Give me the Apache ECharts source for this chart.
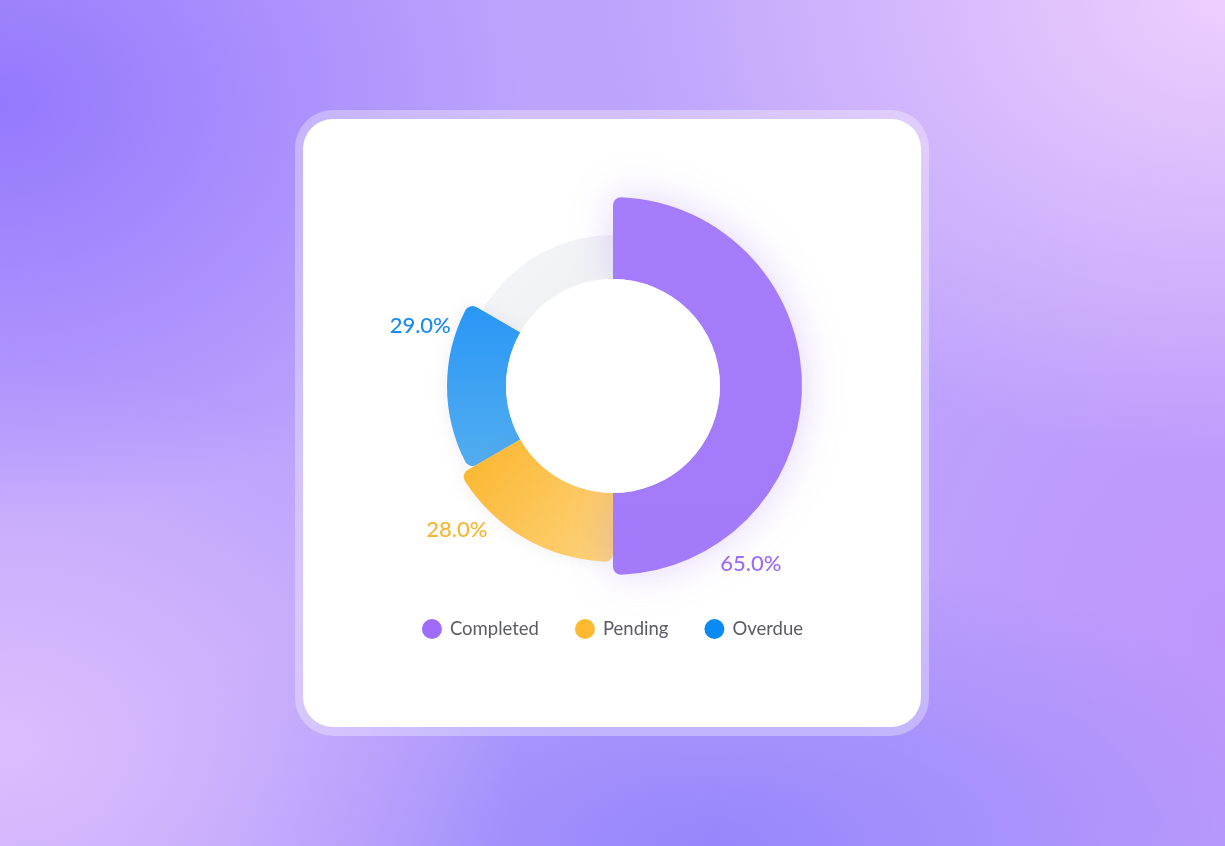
<!DOCTYPE html>
<html>
<head>
<meta charset="utf-8">
<script src="https://cdn.jsdelivr.net/npm/echarts@6/dist/echarts.min.js"></script>
<style>
html,body{margin:0;padding:0;width:1225px;height:846px;overflow:hidden;}
body{
  background:
    radial-gradient(ellipse 520px 420px at 0% 12%, rgba(146,118,253,0.95), rgba(146,118,253,0) 100%),
    radial-gradient(ellipse 620px 460px at 100% 0%, rgba(238,206,253,1), rgba(238,206,253,0) 100%),
    radial-gradient(ellipse 520px 380px at 0% 88%, rgba(220,190,253,1), rgba(220,190,253,0) 100%),
    radial-gradient(ellipse 620px 300px at 58% 100%, rgba(150,134,251,1), rgba(150,134,251,0) 100%),
    radial-gradient(ellipse 420px 500px at 100% 75%, rgba(190,150,251,1), rgba(190,150,251,0) 100%),
    #BCA3FC;
}
#frame{position:absolute;left:295px;top:110px;width:634px;height:626px;border-radius:38px;background:rgba(255,255,255,0.32);}
#card{position:absolute;left:303px;top:119px;width:618px;height:608px;border-radius:30px;background:#fff;}
#chart{position:absolute;left:0;top:0;width:1225px;height:846px;}
</style>
</head>
<body>
<div id="frame"></div>
<div id="card"></div>
<div id="chart"></div>
<script>
// ---- data ----
const categories = ['Completed', 'Pending', 'Overdue'];
const percentValues = [65.0, 28.0, 29.0];       // labels shown on the chart
const arcDegrees = [180, 60, 60];               // angular span of each arc
const legendColors = ['#9E6BFA', '#FDBA30', '#0A8AF2'];
const labelColors = ['#9D6CF6', '#F6B632', '#1A8AEE'];

// ---- layout / style ----
const CX = 613, CY = 386, INNER = 107;
const outerRadii = [189, 176, 166];
const TRACK_OUTER = 151;
const gradients = [
  {type:'linear', x:0, y:0, x2:0, y2:1, colorStops:[{offset:0,color:'#A57DFC'},{offset:1,color:'#A37BFA'}]},
  {type:'linear', x:0, y:0, x2:1, y2:1, colorStops:[{offset:0,color:'#FBB52B'},{offset:1,color:'#FDD37E'}]},
  {type:'linear', x:0, y:0, x2:0, y2:1, colorStops:[{offset:0,color:'#2A97F6'},{offset:1,color:'#52ADEF'}]}
];

const chart = echarts.init(document.getElementById('chart'), null, {renderer:'canvas'});

const series = [];
// background track
series.push({
  type:'pie', name:'track', silent:true, z:1,
  center:[CX, CY], radius:[INNER, TRACK_OUTER],
  label:{show:false}, labelLine:{show:false},
  itemStyle:{color:{type:'linear', x:0, y:0, x2:1, y2:1, colorStops:[{offset:0,color:'#F6F6F8'},{offset:1,color:'#E2E7EC'}]}},
  data:[{value:1, name:'_track'}]
});

let start = 0;
const starts = [];
for (let i = 0; i < categories.length; i++) { starts.push(start); start += arcDegrees[i]; }

// draw order: Overdue, Pending, Completed (later on top)
for (let k = categories.length - 1; k >= 0; k--) {
  const i = k;
  const s0 = starts[i];
  series.push({
    type:'pie', name:categories[i], z:2 + (categories.length - i),
    center:[CX, CY], radius:[INNER, outerRadii[i]],
    startAngle: 90 - s0, clockwise:true,
    avoidLabelOverlap:false,
    emphasis:{disabled:true},
    itemStyle:{borderRadius:[0, 8], shadowBlur: i === 0 ? 40 : 18, shadowColor: i === 0 ? 'rgba(150,100,250,0.28)' : 'rgba(120,120,160,0.12)'},
    labelLine:{show:false},
    labelLayout: function (p) {
      const a = (s0 + 0.79 * arcDegrees[i]) * Math.PI / 180;
      const r = outerRadii[i] + 36;
      return {x: CX + r * Math.sin(a), y: CY - r * Math.cos(a), align:'center', verticalAlign:'middle'};
    },
    data:[
      {value:arcDegrees[i], name:categories[i], itemStyle:{color:gradients[i]},
       label:{show:true, position:'outside', formatter: percentValues[i].toFixed(1) + '%',
              color:labelColors[i], fontSize:22, fontFamily:'Lato', fontWeight:500}},
      {value:360 - arcDegrees[i], name:'', itemStyle:{color:'rgba(0,0,0,0)', shadowBlur:0, borderRadius:0},
       label:{show:false}, tooltip:{show:false}, silent:true}
    ]
  });
}

// white hole on top, hides shadows falling inside the ring
series.push({
  type:'pie', name:'hole', silent:true, z:10,
  center:[CX, CY], radius:[0, INNER],
  label:{show:false}, labelLine:{show:false},
  itemStyle:{color:'#FFFFFF'},
  data:[{value:1, name:'_hole'}]
});

chart.setOption({
  backgroundColor:'transparent',
  animation:false,
  legend:{
    left:'center', top:614, icon:'circle', itemWidth:20, itemHeight:20, itemGap:36,
    textStyle:{color:'#5B5B66', fontSize:18.5, fontFamily:'Lato', padding:[0,0,0,3]},
    selectedMode:false,
    data: categories.map((c, i) => ({name:c, itemStyle:{color:legendColors[i]}}))
  },
  series: series
});
</script>
</body>
</html>
